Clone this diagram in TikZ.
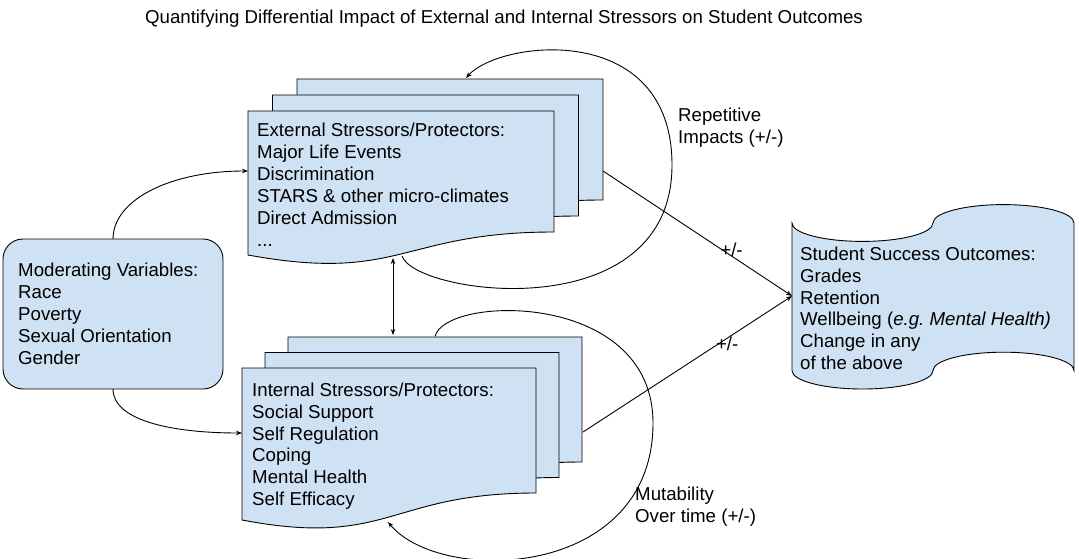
\documentclass[tikz,border=0pt]{standalone}
\usepackage{fontspec}
\setmainfont{Liberation Sans}
\usetikzlibrary{arrows.meta}
\definecolor{boxblue}{HTML}{CFE2F3}
\frenchspacing
\newcommand\docpath[6]{%
  \filldraw[docfill] (#1,#2) -- ({#1+#3},#2) -- ({#1+#3},{#2+#4})
    .. controls ({#1+#3/2},{#2+#4}) and ({#1+#3/2},{#2+#6}) .. (#1,{#2+#5}) -- cycle;}
\tikzset{
  docfill/.style={fill=boxblue, draw=black, line width=0.9pt},
  txt/.style={font=\fontsize{18.67}{21.9}\selectfont, align=left, inner sep=0pt, anchor=north west},
  lbl/.style={font=\fontsize{18.67}{21.9}\selectfont, inner sep=0pt},
  conn/.style={line width=0.9pt, -{Stealth[length=6pt,width=4.5pt]}},
  dconn/.style={line width=0.9pt, {Stealth[length=6pt,width=4.5pt]}-{Stealth[length=6pt,width=4.5pt]}},
  modbox/.style={draw=black, fill=boxblue, line width=0.9pt, rounded corners=20pt, minimum width=220pt, minimum height=150pt, inner sep=0pt}
}
\begin{document}
\begin{tikzpicture}[x=1pt,y=-1pt]
\useasboundingbox (0,0) rectangle (1079,559);
% title
\node[font=\fontsize{18.67}{21.9}\selectfont, anchor=base, inner sep=0pt] (title) at (504,24)
  {Quantifying Differential Impact of External and Internal Stressors on Student Outcomes};
% external documents
\docpath{297}{79}{306}{121}{144}{172}
\docpath{272.5}{95}{306}{121}{144}{172}
\docpath{248}{111}{306}{121}{144}{172}
\node[txt] (ext) at (257,121.4) {\strut External Stressors/Protectors:\\Major Life Events\\Discrimination\\STARS \& other micro-climates\\Direct Admission\\...};
% internal documents
\docpath{288}{337}{294}{125}{152}{180}
\docpath{265}{352.5}{294}{125}{152}{180}
\docpath{242}{368}{294}{125}{152}{180}
\node[txt] (int) at (252,380.7) {\strut Internal Stressors/Protectors:\\Social Support\\Self Regulation\\Coping\\Mental Health\\Self Efficacy};
% moderating box
\node[modbox] (mod) at (113,314) {};
\node[txt] (modtxt) at (18,261.4) {\strut Moderating Variables:\\Race\\Poverty\\Sexual Orientation\\Gender};
% outcome tape shape
\filldraw[docfill] (792,223)
  .. controls (792,233.2) and (823.6,241.4) .. (862.5,241.4)
  .. controls (901.4,241.4) and (933,233.2) .. (933,223)
  .. controls (933,212.8) and (964.6,204.6) .. (1003.5,204.6)
  .. controls (1042.4,204.6) and (1074,212.8) .. (1074,223)
  -- (1074,370.6)
  .. controls (1074,360.4) and (1042.4,352.2) .. (1003.5,352.2)
  .. controls (964.6,352.2) and (933,360.4) .. (933,370.6)
  .. controls (933,380.8) and (901.4,389) .. (862.5,389)
  .. controls (823.6,389) and (792,380.8) .. (792,370.6) -- cycle;
\node[txt] (out) at (800,244.7) {\strut Student Success Outcomes:\\Grades\\Retention\\Wellbeing (\textit{e.g. Mental Health)}\\Change in any\\of the above};
% labels
\node[txt] (rep) at (678,106.4) {\strut Repetitive\\Impacts (+/-)};
\node[txt] (mut) at (635,484.7) {\strut Mutability\\Over time (+/-)};
% connector end points
\coordinate (modN) at (113,239);
\coordinate (modS) at (113,389);
\coordinate (extL) at (248,171);
\coordinate (intL) at (242,433);
\coordinate (extB) at (393,258);
\coordinate (intT) at (393,335);
\coordinate (extR) at (603,171);
\coordinate (intR) at (583,432);
\coordinate (outL) at (792,296);
\coordinate (loopAs) at (402,256);
\coordinate (loopAr) at (672,165);
\coordinate (loopAe) at (466,78);
\coordinate (loopBs) at (435,336.5);
\coordinate (loopBr) at (653,423);
\coordinate (loopBe) at (388,522);
% connectors
\draw[conn] (modN) .. controls (113,200) and (170,171) .. (extL);
\draw[conn] (modS) .. controls (113,420) and (170,433) .. (intL);
\draw[dconn] (extB) -- (intT);
\draw[conn] (extR) -- node[lbl, pos=0.68, yshift=6pt] (pm1) {+/-} (outL);
\draw[conn] (intR) -- node[lbl, pos=0.69, yshift=-6pt] (pm2) {+/-} (outL);
\draw[conn] (loopAs) .. controls (415,295) and (672,330) .. (loopAr)
  .. controls (672,20) and (500,40) .. (loopAe);
\draw[conn] (loopBs) .. controls (445,295) and (653,290) .. (loopBr)
  .. controls (653,580) and (440,585) .. (loopBe);
\end{tikzpicture}
\end{document}
